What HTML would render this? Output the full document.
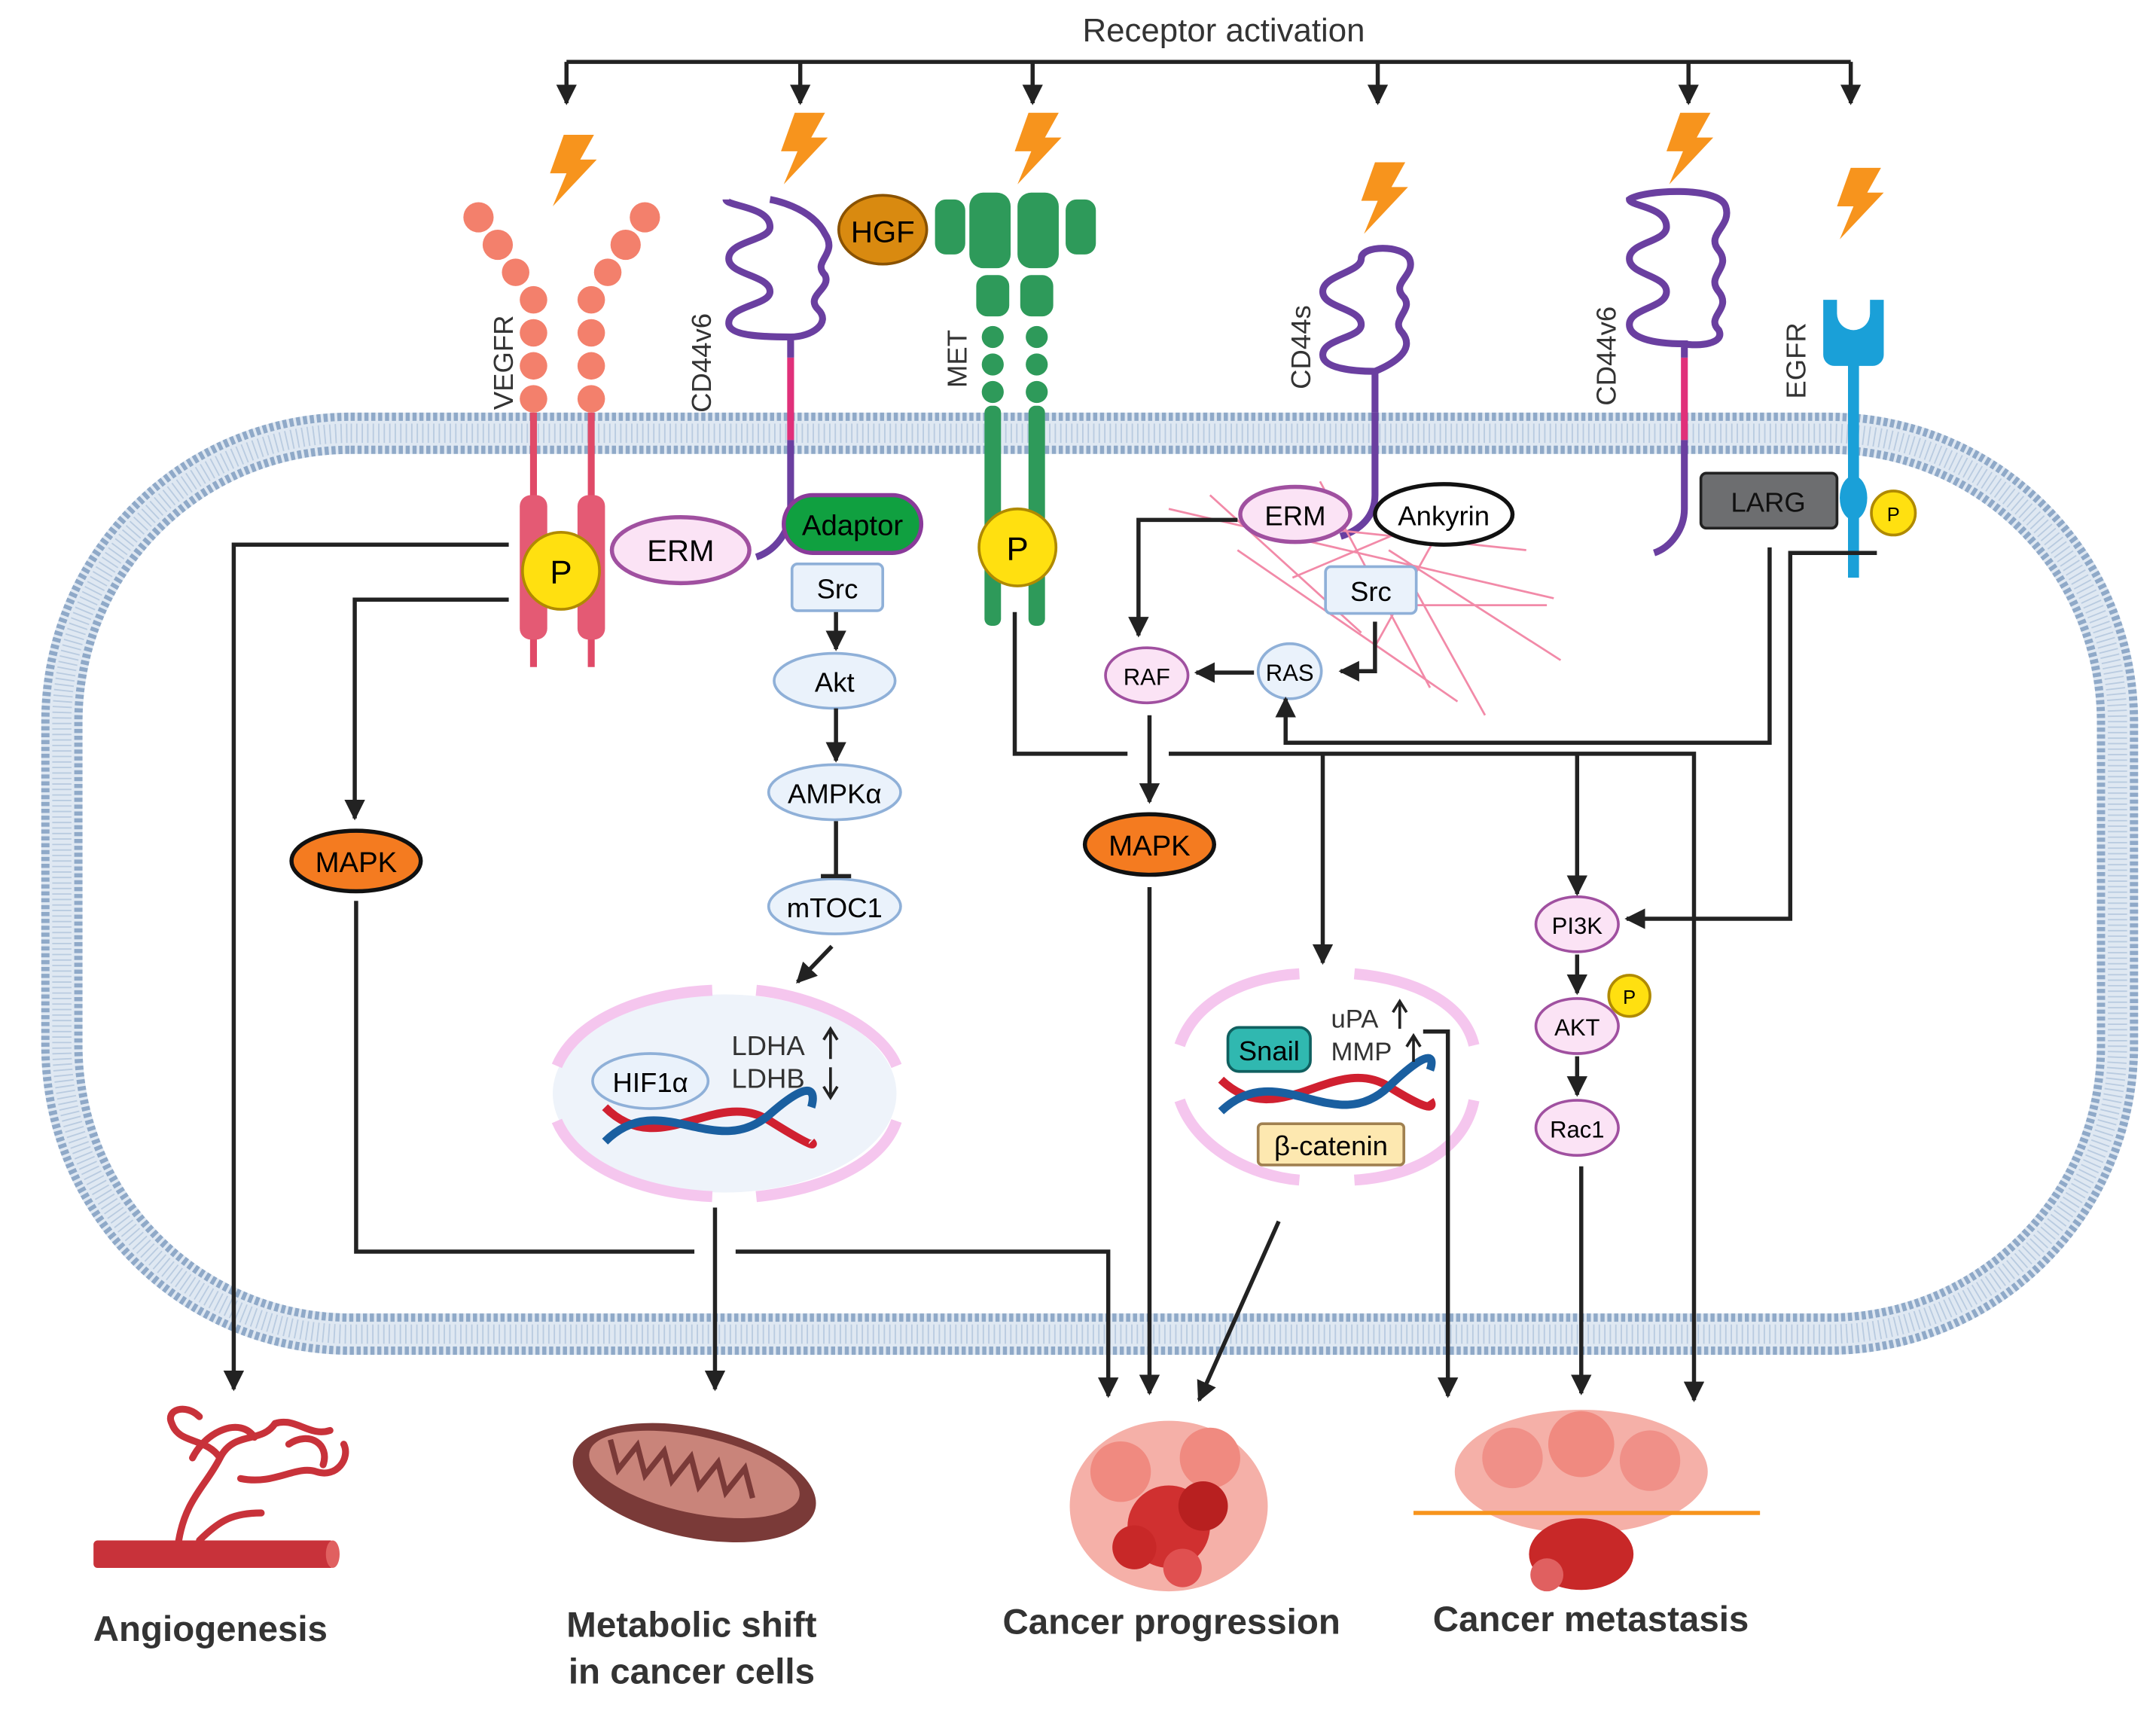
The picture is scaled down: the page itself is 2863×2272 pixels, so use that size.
<!DOCTYPE html>
<html><head><meta charset="utf-8"><style>
html,body{margin:0;padding:0;background:#fff}
svg{display:block}
text{font-family:"Liberation Sans",sans-serif}
</style></head><body>
<svg width="2863" height="2272" viewBox="0 0 1568 1244" preserveAspectRatio="none" xmlns="http://www.w3.org/2000/svg">
<defs>
<marker id="a" viewBox="0 0 10 10" refX="9" refY="5" markerWidth="5" markerHeight="5" orient="auto"><path d="M0,0L10,5L0,10z" fill="#222"/></marker>
</defs>
<rect width="1568" height="1244" fill="#fff"/>
<!-- membrane -->
<rect x="45" y="315" width="1495" height="655" rx="210" fill="none" stroke="#dfe8f2" stroke-width="30"/>
<rect x="33" y="303" width="1519" height="679" rx="222" fill="none" stroke="#8fa9c8" stroke-width="6" stroke-dasharray="3 2"/>
<rect x="57" y="327" width="1471" height="631" rx="198" fill="none" stroke="#8fa9c8" stroke-width="6" stroke-dasharray="3 2"/>
<rect x="45" y="315" width="1495" height="655" rx="210" fill="none" stroke="#b9cbe0" stroke-width="14" stroke-dasharray="1 3"/>

<text x="890" y="30" font-size="24" text-anchor="middle" fill="#333">Receptor activation</text>
<g stroke="#222" stroke-width="3" fill="none">
<path d="M412,45H1346"/>
<path d="M412,45V75" marker-end="url(#a)"/><path d="M582,45V75" marker-end="url(#a)"/><path d="M751,45V75" marker-end="url(#a)"/><path d="M1002,45V75" marker-end="url(#a)"/><path d="M1228,45V75" marker-end="url(#a)"/><path d="M1346,45V75" marker-end="url(#a)"/>
</g>
<g fill="#f7941d">
<path d="M410,98l22,0l-10,18l12,0l-32,34l10-24l-12,0z"/>
<path d="M578,82l22,0l-10,18l12,0l-32,34l10-24l-12,0z"/>
<path d="M748,82l22,0l-10,18l12,0l-32,34l10-24l-12,0z"/>
<path d="M1000,118l22,0l-10,18l12,0l-32,34l10-24l-12,0z"/>
<path d="M1222,82l22,0l-10,18l12,0l-32,34l10-24l-12,0z"/>
<path d="M1346,122l22,0l-10,18l12,0l-32,34l10-24l-12,0z"/>
</g>

<!-- VEGFR -->
<g fill="#f3806c">
<circle cx="348" cy="158" r="11"/><circle cx="362" cy="178" r="11"/><circle cx="375" cy="198" r="10"/><circle cx="388" cy="218" r="10"/><circle cx="388" cy="242" r="10"/><circle cx="388" cy="266" r="10"/><circle cx="388" cy="290" r="10"/>
<circle cx="469" cy="158" r="11"/><circle cx="455" cy="178" r="11"/><circle cx="442" cy="198" r="10"/><circle cx="430" cy="218" r="10"/><circle cx="430" cy="242" r="10"/><circle cx="430" cy="266" r="10"/><circle cx="430" cy="290" r="10"/>
</g>
<g stroke="#e04a68" stroke-width="5"><path d="M388,300V485M430,300V485"/></g>
<rect x="378" y="360" width="20" height="105" rx="8" fill="#e45a74"/><rect x="420" y="360" width="20" height="105" rx="8" fill="#e45a74"/>
<circle cx="408" cy="415" r="28" fill="#ffe010" stroke="#b08a00" stroke-width="2"/><text x="408" y="424" font-size="24" text-anchor="middle">P</text>
<text transform="translate(373,298) rotate(-90)" font-size="20" fill="#333">VEGFR</text>

<!-- CD44v6 left -->
<path d="M575,260V245C560,245 530,245 530,235C530,222 560,222 560,212C560,200 530,200 530,188C530,175 560,175 560,165C560,150 528,150 528,145M575,245C590,245 605,235 595,225C585,215 605,210 600,200C590,190 610,185 600,170C590,150 560,145 560,145" fill="none" stroke="#6a3fa0" stroke-width="5"/>
<path d="M575,260V320" stroke="#e0307a" stroke-width="5"/>
<path d="M575,320V370C575,385 565,400 550,405" stroke="#6a3fa0" stroke-width="5" fill="none"/>
<text transform="translate(517,300) rotate(-90)" font-size="20" fill="#333">CD44v6</text>
<ellipse cx="642" cy="167" rx="32" ry="25" fill="#d98a10" stroke="#8a5200" stroke-width="2"/><text x="642" y="176" font-size="22" text-anchor="middle">HGF</text>
<ellipse cx="495" cy="400" rx="50" ry="24" fill="#fbe3f5" stroke="#a050a0" stroke-width="3"/><text x="495" y="408" font-size="22" text-anchor="middle">ERM</text>

<!-- MET -->
<g fill="#2e9a5a">
<rect x="680" y="145" width="22" height="40" rx="8"/><rect x="775" y="145" width="22" height="40" rx="8"/>
<rect x="705" y="140" width="30" height="55" rx="10"/><rect x="740" y="140" width="30" height="55" rx="10"/>
<rect x="710" y="200" width="24" height="30" rx="8"/><rect x="742" y="200" width="24" height="30" rx="8"/>
<circle cx="722" cy="245" r="8"/><circle cx="722" cy="265" r="8"/><circle cx="722" cy="285" r="8"/><circle cx="754" cy="245" r="8"/><circle cx="754" cy="265" r="8"/><circle cx="754" cy="285" r="8"/>
<rect x="716" y="295" width="12" height="160" rx="5"/><rect x="748" y="295" width="12" height="160" rx="5"/>
</g>
<text transform="translate(703,282) rotate(-90)" font-size="20" fill="#333">MET</text>
<circle cx="740" cy="398" r="28" fill="#ffe010" stroke="#b08a00" stroke-width="2"/><text x="740" y="407" font-size="24" text-anchor="middle">P</text>

<rect x="570" y="360" width="100" height="42" rx="21" fill="#10a040" stroke="#8a3a9a" stroke-width="3"/><text x="620" y="389" font-size="21" text-anchor="middle">Adaptor</text>
<rect x="576" y="410" width="66" height="34" rx="4" fill="#eaf2fb" stroke="#8fb0d8" stroke-width="2"/><text x="609" y="435" font-size="20" text-anchor="middle">Src</text>
<ellipse cx="607" cy="495" rx="44" ry="20" fill="#eaf2fb" stroke="#8fb0d8" stroke-width="2"/><text x="607" y="503" font-size="20" text-anchor="middle">Akt</text>
<ellipse cx="607" cy="576" rx="48" ry="20" fill="#eaf2fb" stroke="#8fb0d8" stroke-width="2"/><text x="607" y="584" font-size="20" text-anchor="middle">AMPKα</text>
<ellipse cx="607" cy="659" rx="48" ry="20" fill="#eaf2fb" stroke="#8fb0d8" stroke-width="2"/><text x="607" y="667" font-size="20" text-anchor="middle">mTOC1</text>
<g stroke="#222" stroke-width="3" fill="none">
<path d="M608,445V472" marker-end="url(#a)"/><path d="M608,515V553" marker-end="url(#a)"/>
<path d="M608,597V637M597,637H619"/>
<path d="M605,688L580,714" marker-end="url(#a)"/>
</g>

<ellipse cx="527" cy="795" rx="125" ry="72" fill="#eef3fa"/>
<g fill="none" stroke="#f5c6ee" stroke-width="8">
<path d="M405,775C420,740 470,722 518,720"/><path d="M550,720C590,724 640,745 652,775"/>
<path d="M405,815C420,850 470,868 518,870"/><path d="M550,870C590,866 640,850 652,815"/>
</g>
<ellipse cx="473" cy="786" rx="42" ry="20" fill="#eaf2fb" stroke="#8fb0d8" stroke-width="2"/><text x="473" y="794" font-size="20" text-anchor="middle">HIF1α</text>
<text x="532" y="767" font-size="20" fill="#333">LDHA</text><text x="532" y="791" font-size="20" fill="#333">LDHB</text>
<path d="M604,770V750M599,756L604,748L609,756" stroke="#222" stroke-width="2" fill="none"/>
<path d="M604,776V796M599,790L604,798L609,790" stroke="#222" stroke-width="2" fill="none"/>
<path d="M440,805C480,845 520,790 560,815S590,830 590,830" stroke="#d02030" stroke-width="6" fill="none"/>
<path d="M440,830C480,790 520,845 560,810S590,805 590,805" stroke="#1a5fa0" stroke-width="6" fill="none"/>

<!-- CD44s -->
<path d="M1000,300V360C1000,375 990,385 975,390" stroke="#6a3fa0" stroke-width="5" fill="none"/>
<path d="M1000,300V270C985,270 962,268 962,258C962,246 990,246 990,236C990,224 962,224 962,212C962,200 990,198 990,188C990,178 1020,178 1025,188C1030,200 1012,205 1020,215C1030,225 1010,232 1020,242C1030,255 1012,265 1000,270" stroke="#6a3fa0" stroke-width="5" fill="none"/>
<text transform="translate(953,283) rotate(-90)" font-size="20" fill="#333">CD44s</text>
<g stroke="#f28aa8" stroke-width="1.5" fill="none">
<path d="M850,370L1130,435M900,400L1060,510M940,420L1070,365M960,350L1040,500M1010,400L1135,480M880,360L990,460M1030,430L1080,520M920,380L1110,400M1050,380L1000,470M970,440L1125,440"/>
</g>
<ellipse cx="942" cy="374" rx="40" ry="20" fill="#fbe3f5" stroke="#a050a0" stroke-width="3"/><text x="942" y="382" font-size="20" text-anchor="middle">ERM</text>
<ellipse cx="1050" cy="374" rx="50" ry="22" fill="#fff" stroke="#111" stroke-width="3"/><text x="1050" y="382" font-size="20" text-anchor="middle">Ankyrin</text>
<rect x="964" y="412" width="66" height="34" rx="4" fill="#eaf2fb" stroke="#8fb0d8" stroke-width="2"/><text x="997" y="437" font-size="20" text-anchor="middle">Src</text>
<ellipse cx="938" cy="488" rx="23" ry="20" fill="#eaf2fb" stroke="#8fb0d8" stroke-width="2"/><text x="938" y="495" font-size="17" text-anchor="middle">RAS</text>
<ellipse cx="834" cy="491" rx="30" ry="20" fill="#fbe3f5" stroke="#a050a0" stroke-width="2"/><text x="834" y="498" font-size="17" text-anchor="middle">RAF</text>

<!-- CD44v6 right -->
<path d="M1225,260V320" stroke="#e0307a" stroke-width="5"/>
<path d="M1225,320V370C1225,385 1215,398 1203,402" stroke="#6a3fa0" stroke-width="5" fill="none"/>
<path d="M1225,260V250C1200,250 1185,245 1185,236C1185,224 1212,224 1212,212C1212,200 1185,200 1185,188C1185,176 1212,176 1212,165C1212,150 1185,150 1185,145C1195,138 1250,135 1255,150C1260,165 1240,170 1250,182C1260,195 1240,200 1250,212C1260,225 1240,230 1250,240C1255,250 1235,252 1225,250" stroke="#6a3fa0" stroke-width="5" fill="none"/>
<text transform="translate(1175,295) rotate(-90)" font-size="20" fill="#333">CD44v6</text>
<rect x="1237" y="344" width="99" height="40" rx="4" fill="#6d6e70" stroke="#222" stroke-width="2"/><text x="1286" y="372" font-size="20" text-anchor="middle" fill="#111">LARG</text>
<path d="M1326,218h10v10a12,12 0 0 0 24,0v-10h10v40a8,8 0 0 1 -8,8h-28a8,8 0 0 1 -8,-8z" fill="#1aa0d8"/>
<rect x="1344" y="262" width="8" height="158" fill="#1aa0d8"/>
<ellipse cx="1348" cy="362" rx="10" ry="16" fill="#1aa0d8"/>
<circle cx="1377" cy="373" r="16" fill="#ffe010" stroke="#b08a00" stroke-width="2"/><text x="1377" y="379" font-size="14" text-anchor="middle">P</text>
<text transform="translate(1313,290) rotate(-90)" font-size="20" fill="#333">EGFR</text>

<ellipse cx="1147" cy="672" rx="30" ry="20" fill="#fbe3f5" stroke="#a050a0" stroke-width="2"/><text x="1147" y="679" font-size="17" text-anchor="middle">PI3K</text>
<ellipse cx="1147" cy="746" rx="30" ry="20" fill="#fbe3f5" stroke="#a050a0" stroke-width="2"/><text x="1147" y="753" font-size="17" text-anchor="middle">AKT</text>
<circle cx="1185" cy="724" r="15" fill="#ffe010" stroke="#b08a00" stroke-width="2"/><text x="1185" y="730" font-size="14" text-anchor="middle">P</text>
<ellipse cx="1147" cy="820" rx="30" ry="20" fill="#fbe3f5" stroke="#a050a0" stroke-width="2"/><text x="1147" y="827" font-size="17" text-anchor="middle">Rac1</text>

<g fill="none" stroke="#f5c6ee" stroke-width="8">
<path d="M858,760C870,725 910,710 945,708"/><path d="M985,708C1030,712 1065,730 1072,760"/>
<path d="M858,800C870,835 910,855 945,858"/><path d="M985,858C1030,855 1065,835 1072,800"/>
</g>
<path d="M888,785C930,825 970,765 1010,790S1040,800 1040,800" stroke="#d02030" stroke-width="6" fill="none"/>
<path d="M888,808C930,768 970,828 1010,790S1040,778 1040,778" stroke="#1a5fa0" stroke-width="6" fill="none"/>
<rect x="893" y="747" width="60" height="32" rx="8" fill="#30b8b0" stroke="#106060" stroke-width="2"/><text x="923" y="771" font-size="20" text-anchor="middle">Snail</text>
<rect x="915" y="817" width="106" height="30" rx="3" fill="#fde8b0" stroke="#a08050" stroke-width="2"/><text x="968" y="840" font-size="20" text-anchor="middle">β-catenin</text>
<text x="968" y="747" font-size="19" fill="#333">uPA</text><text x="968" y="771" font-size="19" fill="#333">MMP</text>
<path d="M1018,748V730M1013,736L1018,728L1023,736" stroke="#222" stroke-width="2" fill="none"/>
<path d="M1028,772V755M1023,761L1028,753L1033,761" stroke="#222" stroke-width="2" fill="none"/>

<ellipse cx="259" cy="626" rx="47" ry="22" fill="#f47b20" stroke="#111" stroke-width="3"/><text x="259" y="634" font-size="21" text-anchor="middle">MAPK</text>
<ellipse cx="836" cy="614" rx="47" ry="22" fill="#f47b20" stroke="#111" stroke-width="3"/><text x="836" y="622" font-size="21" text-anchor="middle">MAPK</text>

<g stroke="#222" stroke-width="3" fill="none">
<path d="M370,396H170V1010" marker-end="url(#a)"/>
<path d="M370,436H258V595" marker-end="url(#a)"/>
<path d="M259,655V910H505"/>
<path d="M535,910H806V1015" marker-end="url(#a)"/>
<path d="M520,878V1010" marker-end="url(#a)"/>
<path d="M738,445V548H820"/>
<path d="M850,548H1232V1018" marker-end="url(#a)"/>
<path d="M962,548V700" marker-end="url(#a)"/>
<path d="M1147,548V650" marker-end="url(#a)"/>
<path d="M836,520V583" marker-end="url(#a)"/>
<path d="M836,645V1013" marker-end="url(#a)"/>
<path d="M900,378H828V462" marker-end="url(#a)"/>
<path d="M1000,452V488H975" marker-end="url(#a)"/>
<path d="M912,489H870" marker-end="url(#a)"/>
<path d="M1287,398V540H935V508" marker-end="url(#a)"/>
<path d="M1365,402H1302V668H1183" marker-end="url(#a)"/>
<path d="M1035,750H1053V1015" marker-end="url(#a)"/>
<path d="M930,888L872,1018" marker-end="url(#a)"/>
<path d="M1147,694V722" marker-end="url(#a)"/>
<path d="M1147,768V796" marker-end="url(#a)"/>
<path d="M1150,848V1013" marker-end="url(#a)"/>
</g>

<rect x="68" y="1120" width="175" height="20" fill="#c8323a" rx="3"/>
<ellipse cx="242" cy="1130" rx="5" ry="10" fill="#e06060"/>
<g stroke="#c8323a" stroke-width="5" fill="none" stroke-linecap="round">
<path d="M130,1120C135,1090 150,1080 160,1060C170,1040 190,1050 200,1035"/>
<path d="M160,1060C150,1045 130,1050 125,1035C120,1025 135,1020 145,1030"/>
<path d="M175,1075C200,1080 215,1065 230,1070C245,1075 255,1060 250,1050"/>
<path d="M200,1035C215,1030 225,1045 240,1040"/>
<path d="M145,1120C160,1105 170,1100 190,1100"/>
<path d="M140,1060C150,1040 175,1030 185,1045M210,1050C225,1040 240,1050 235,1065"/>
</g>
<text x="153" y="1193" font-size="26" text-anchor="middle" fill="#333" font-weight="bold">Angiogenesis</text>

<ellipse cx="505" cy="1078" rx="90" ry="40" transform="rotate(12 505 1078)" fill="#7a3a38"/>
<ellipse cx="505" cy="1072" rx="78" ry="28" transform="rotate(12 505 1072)" fill="#c9847a"/>
<path d="M440,1060l10,20l10,-20l10,20l10,-20l10,20l10,-20l10,20l10,-20l10,20l10,-20l10,20" transform="rotate(12 505 1072)" stroke="#7a3a38" stroke-width="4" fill="none"/>
<text x="503" y="1190" font-size="26" text-anchor="middle" fill="#333" font-weight="bold">Metabolic shift</text>
<text x="503" y="1224" font-size="26" text-anchor="middle" fill="#333" font-weight="bold">in cancer cells</text>

<ellipse cx="850" cy="1095" rx="72" ry="62" fill="#f5b0a8"/>
<circle cx="815" cy="1070" r="22" fill="#f08a80"/><circle cx="880" cy="1060" r="22" fill="#f08a80"/>
<circle cx="850" cy="1110" r="30" fill="#d03030"/><circle cx="875" cy="1095" r="18" fill="#b82020"/><circle cx="825" cy="1125" r="16" fill="#c82828"/><circle cx="860" cy="1140" r="14" fill="#e05050"/>
<text x="852" y="1188" font-size="26" text-anchor="middle" fill="#333" font-weight="bold">Cancer progression</text>

<ellipse cx="1150" cy="1070" rx="92" ry="45" fill="#f5b0a8"/>
<circle cx="1100" cy="1060" r="22" fill="#f09088"/><circle cx="1200" cy="1062" r="22" fill="#f09088"/><circle cx="1150" cy="1050" r="24" fill="#f08a80"/>
<ellipse cx="1150" cy="1130" rx="38" ry="26" fill="#c82828"/><circle cx="1125" cy="1145" r="12" fill="#e06060"/>
<path d="M1028,1100H1280" stroke="#f7941d" stroke-width="3"/>
<text x="1157" y="1186" font-size="26" text-anchor="middle" fill="#333" font-weight="bold">Cancer metastasis</text>
</svg>
</body></html>
